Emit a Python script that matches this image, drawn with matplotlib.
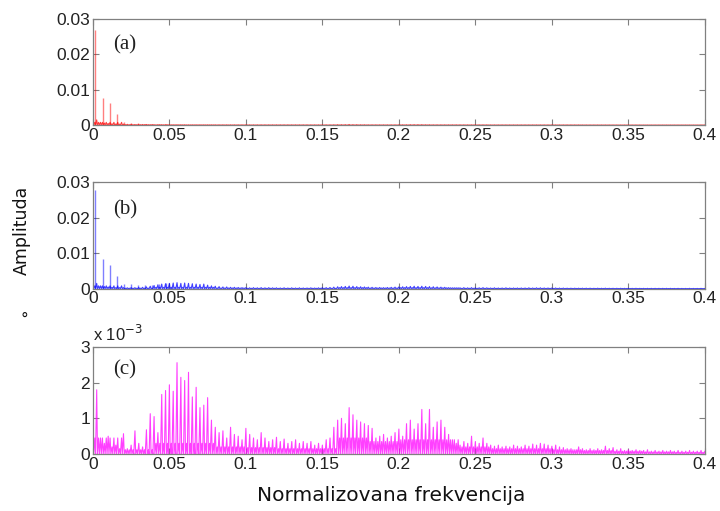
import numpy as np
import matplotlib.pyplot as plt

# frequency grid of the dense spectrum (normalized frequency)
step = 0.0025
freq = np.arange(161) * step

# harmonic spikes visible in panels (a) and (b)
harm_freq = [0.0013, 0.0063, 0.0111, 0.0157, 0.0203, 0.0249, 0.0295, 0.0341, 0.0387, 0.0433, 0.0479]
harm_a = [26.9, 7.8, 6.2, 3.1, 0.8, 0.6, 0.5, 0.45, 0.4, 0.35, 0.35]      # x 1e-3
harm_b = [27.6, 8.3, 6.6, 3.6, 1.3, 1.2, 1.1, 1.0, 1.1, 1.3, 1.5]        # x 1e-3

# spike heights on the grid, x 1e-3 (8 values per 0.02 band)
amp_a = [3.5, 1.5, 0.8, 0.6, 0.5, 0.4, 0.35, 0.3,
         0.3, 0.25, 0.25, 0.2, 0.2, 0.2, 0.2, 0.15,
         0.15, 0.15, 0.15, 0.15, 0.15, 0.12, 0.12, 0.12,
         0.12, 0.1, 0.1, 0.1, 0.1, 0.1, 0.1, 0.1,
         0.1, 0.1, 0.1, 0.1, 0.1, 0.1, 0.1, 0.1,
         0.1, 0.1, 0.1, 0.1, 0.1, 0.1, 0.1, 0.1,
         0.1, 0.1, 0.1, 0.1, 0.1, 0.1, 0.1, 0.1,
         0.1, 0.1, 0.1, 0.1, 0.1, 0.1, 0.1, 0.12,
         0.15, 0.15, 0.15, 0.2, 0.15, 0.15, 0.12, 0.12,
         0.1, 0.1, 0.1, 0.1, 0.1, 0.1, 0.1, 0.1,
         0.1, 0.12, 0.12, 0.15, 0.15, 0.15, 0.15, 0.12,
         0.12, 0.1, 0.1, 0.1, 0.1, 0.1, 0.1, 0.1,
         0.1, 0.1, 0.1, 0.1, 0.1, 0.1, 0.1, 0.1,
         0.08, 0.08, 0.08, 0.08, 0.08, 0.08, 0.08, 0.08,
         0.08, 0.08, 0.08, 0.08, 0.08, 0.08, 0.08, 0.08,
         0.08, 0.08, 0.08, 0.08, 0.08, 0.08, 0.08, 0.08,
         0.06, 0.06, 0.06, 0.06, 0.06, 0.06, 0.06, 0.06,
         0.06, 0.06, 0.06, 0.06, 0.06, 0.06, 0.06, 0.06,
         0.05, 0.05, 0.05, 0.05, 0.05, 0.05, 0.05, 0.05,
         0.05, 0.05, 0.05, 0.05, 0.05, 0.05, 0.05, 0.05,
         0.05]
amp_b = [2.4, 1.5, 0.8, 0.6, 0.5, 0.4, 0.3, 0.3,
         0.3, 0.25, 0.3, 0.3, 0.35, 0.4, 0.5, 0.7,
         0.9, 1.1, 1.3, 1.4, 1.5, 1.6, 1.7, 1.5,
         1.6, 1.5, 1.4, 1.3, 1.2, 1.3, 1.0, 0.8,
         0.7, 0.6, 0.5, 0.5, 0.4, 0.4, 0.35, 0.3,
         0.3, 0.25, 0.3, 0.25, 0.3, 0.25, 0.3, 0.25,
         0.25, 0.2, 0.25, 0.2, 0.25, 0.2, 0.25, 0.2,
         0.2, 0.25, 0.2, 0.25, 0.3, 0.3, 0.35, 0.45,
         0.55, 0.6, 0.65, 0.75, 0.7, 0.6, 0.55, 0.5,
         0.45, 0.4, 0.35, 0.35, 0.3, 0.35, 0.4, 0.45,
         0.5, 0.55, 0.6, 0.65, 0.7, 0.65, 0.7, 0.65,
         0.6, 0.55, 0.5, 0.45, 0.4, 0.3, 0.25, 0.25,
         0.25, 0.3, 0.25, 0.3, 0.25, 0.25, 0.3, 0.25,
         0.2, 0.25, 0.2, 0.2, 0.25, 0.2, 0.2, 0.2,
         0.2, 0.2, 0.25, 0.2, 0.25, 0.25, 0.2, 0.2,
         0.2, 0.2, 0.18, 0.18, 0.15, 0.15, 0.15, 0.15,
         0.15, 0.15, 0.15, 0.12, 0.15, 0.12, 0.15, 0.12,
         0.12, 0.12, 0.12, 0.1, 0.12, 0.1, 0.12, 0.1,
         0.1, 0.1, 0.1, 0.1, 0.1, 0.1, 0.1, 0.1,
         0.08, 0.1, 0.08, 0.08, 0.1, 0.08, 0.08, 0.1,
         0.08]
amp_c = [1.25, 1.8, 0.45, 0.3, 0.5, 0.2, 0.25, 0.15,
         0.57, 0.15, 0.25, 0.65, 0.3, 0.2, 0.68, 1.13,
         1.05, 0.6, 1.67, 1.78, 1.94, 1.76, 2.56, 2.15,
         2.06, 2.29, 1.6, 1.87, 1.3, 1.37, 1.58, 0.95,
         0.75, 0.6, 0.65, 0.45, 0.75, 0.55, 0.5, 0.4,
         0.72, 0.55, 0.45, 0.4, 0.6, 0.45, 0.35, 0.4,
         0.47, 0.35, 0.42, 0.3, 0.35, 0.4, 0.3, 0.35,
         0.3, 0.35, 0.25, 0.3, 0.25, 0.4, 0.45, 0.75,
         0.95, 1.0, 0.85, 1.3, 1.1, 0.95, 0.9, 0.85,
         0.8, 0.72, 0.45, 0.5, 0.55, 0.45, 0.5, 0.6,
         0.7, 0.5, 0.85, 0.95, 0.7, 0.85, 1.25, 0.85,
         1.25, 0.75, 0.9, 0.95, 0.75, 0.55, 0.4, 0.3,
         0.25, 0.35, 0.3, 0.5, 0.35, 0.3, 0.45, 0.3,
         0.25, 0.22, 0.25, 0.2, 0.22, 0.2, 0.25, 0.22,
         0.2, 0.25, 0.22, 0.28, 0.25, 0.3, 0.28, 0.25,
         0.22, 0.25, 0.2, 0.18, 0.15, 0.15, 0.12, 0.2,
         0.15, 0.12, 0.15, 0.12, 0.15, 0.12, 0.22, 0.15,
         0.18, 0.12, 0.15, 0.1, 0.12, 0.1, 0.12, 0.1,
         0.1, 0.12, 0.08, 0.1, 0.08, 0.1, 0.08, 0.1,
         0.08, 0.1, 0.08, 0.08, 0.1, 0.08, 0.08, 0.1,
         0.08]

# height of the dense low "fill" in each 0.02 band, x 1e-3
mid_a = [0.8, 0.15, 0.1, 0.08, 0.06, 0.05, 0.05, 0.05, 0.06, 0.05,
         0.06, 0.05, 0.05, 0.04, 0.04, 0.04, 0.03, 0.03, 0.03, 0.03]
mid_b = [0.8, 0.15, 0.4, 0.4, 0.2, 0.12, 0.1, 0.12, 0.3, 0.2,
         0.3, 0.25, 0.12, 0.1, 0.1, 0.08, 0.07, 0.06, 0.05, 0.04]
mid_c = [0.45, 0.12, 0.3, 0.3, 0.2, 0.18, 0.15, 0.15, 0.45, 0.35,
         0.4, 0.4, 0.2, 0.15, 0.15, 0.12, 0.1, 0.08, 0.06, 0.05]

xticks = [0, 0.05, 0.1, 0.15, 0.2, 0.25, 0.3, 0.35, 0.4]
xtick_labels = ['0', '0.05', '0.1', '0.15', '0.2', '0.25', '0.3', '0.35', '0.4']


def spectrum_line(amps, mids, scale):
    mids_full = list(np.repeat(mids, 8)) + [mids[-1]]
    xs, ys = [], []
    for fk, pk, mk in zip(freq, amps, mids_full):
        xs += [fk, fk + 0.0005, fk + step / 2, fk + step / 2 + 0.0005]
        ys += [pk * scale, 0.0, mk * scale, 0.0]
    return np.array(xs), np.array(ys)


fig = plt.figure(figsize=(7.2, 5.11), dpi=100)
ax_a = fig.add_axes([0.129, 0.755, 0.850, 0.208])
ax_b = fig.add_axes([0.129, 0.435, 0.850, 0.209])
ax_c = fig.add_axes([0.129, 0.1115, 0.850, 0.2095])

tick_font = {'family': 'Liberation Sans', 'size': 12.5}

panels = [
    (ax_a, amp_a, mid_a, harm_a, 'red', 1e-3, '(a)', 0.755),
    (ax_b, amp_b, mid_b, harm_b, 'blue', 1e-3, '(b)', 0.74),
    (ax_c, amp_c, mid_c, None, 'magenta', 1.0, '(c)', 0.79),
]

for ax, amps, mids, harm, color, scale, tag, ty in panels:
    x, y = spectrum_line(amps, mids, scale)
    ax.plot(x, y, color=color, lw=0.8, alpha=0.75)
    if harm is not None:
        ax.vlines(harm_freq, 0, np.array(harm) * scale, color=color, lw=1.0, alpha=0.5)
    ax.set_xlim(0, 0.4)
    ax.set_xticks(xticks)
    ax.set_xticklabels(xtick_labels, fontdict=tick_font)
    if scale == 1.0:
        ax.set_ylim(0, 3)
        ax.set_yticks([0, 1, 2, 3])
        ax.set_yticklabels(['0', '1', '2', '3'], fontdict=tick_font)
    else:
        ax.set_ylim(0, 0.03)
        ax.set_yticks([0, 0.01, 0.02, 0.03])
        ax.set_yticklabels(['0', '0.01', '0.02', '0.03'], fontdict=tick_font)
    ax.tick_params(direction='in', top=True, right=True, length=4, width=0.8,
                   color='#808080', labelcolor='#222222', pad=2)
    for sp in ax.spines.values():
        sp.set_color('#808080')
        sp.set_linewidth(0.9)
    ax.text(0.052, ty, tag, transform=ax.transAxes, ha='center', va='center',
            family='Liberation Serif', fontsize=15, color='#222222')

ax_c.text(0.0, 1.03, 'x 10$^{-3}$', transform=ax_c.transAxes, ha='left', va='bottom',
          family='Liberation Sans', fontsize=12, color='#222222')

fig.text(0.03, 0.55, 'Amplituda', rotation=90, ha='center', va='center',
         family='DejaVu Sans', fontsize=12.5, color='#111111')
fig.text(0.544, 0.031, 'Normalizovana frekvencija', ha='center', va='center',
         family='DejaVu Sans', fontsize=14.5, color='#111111')
fig.text(0.034, 0.376, '°', ha='center', va='center', family='DejaVu Sans',
         fontsize=11, color='#111111')

fig.savefig('out.png', dpi=100)
